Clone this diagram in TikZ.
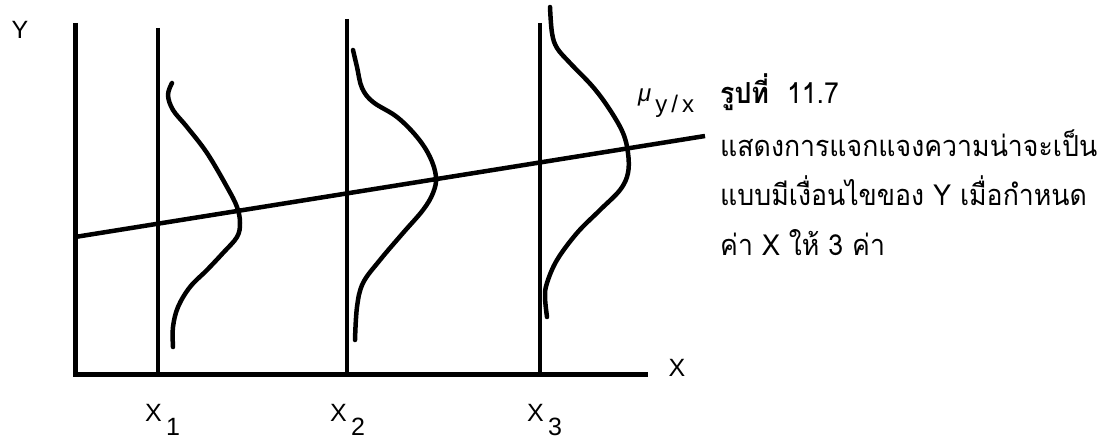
\documentclass[tikz,border=0pt]{standalone}
\usepackage{fontspec}
\setmainfont{Liberation Sans}
\newfontfamily\thaifont[Script=Thai]{Loma}
\usetikzlibrary{positioning}
\newcommand{\narrow}[1]{\scalebox{0.92}[1]{#1}}

\begin{document}
\begin{tikzpicture}[
    x=1pt, y=-1pt,
    axis/.style={line width=5pt},
    xline/.style={line width=4pt},
    density/.style={line width=4.5pt, line cap=round, line join=round},
    regline/.style={line width=4.5pt},
    axlabel/.style={inner sep=0pt, font=\fontsize{25}{25}\selectfont},
    thaitext/.style={inner sep=0pt, anchor=base west, font=\thaifont\fontsize{29}{29}\selectfont},
]
\useasboundingbox (0,0) rectangle (1107,441);

% Axes
\coordinate (origin) at (75,374);
\coordinate (ytop) at (75,23);
\coordinate (xend) at (648,374);
\draw[axis] (ytop) -- (origin) -- (xend);
\node[axlabel] (ylab) at (20,30) {Y};
\node[axlabel] (xlab) at (677,368) {X};

% Vertical lines at the three X values
\coordinate (x1top) at (158,28);
\coordinate (x2top) at (347,19);
\coordinate (x3top) at (540,23);
\draw[xline] (x1top) -- (x1top |- origin);
\draw[xline] (x2top) -- (x2top |- origin);
\draw[xline] (x3top) -- (x3top |- origin);
\node[axlabel, anchor=base west] (x1lab) at (145,421) {X\,\raisebox{-14pt}{1}};
\node[axlabel, anchor=base west] (x2lab) at (330,421) {X\,\raisebox{-14pt}{2}};
\node[axlabel, anchor=base west] (x3lab) at (527,421) {X\,\raisebox{-14pt}{3}};

% Regression line
\coordinate (rega) at (75,237);
\coordinate (regb) at (705,136);
\draw[regline] (rega) -- (regb);
\node[anchor=base west, inner sep=0pt, font=\fontsize{24}{24}\selectfont] (mulab) at (638,113)
    {\raisebox{11pt}{\itshape μ}\,y\,/\,x};

% Conditional densities
\draw[density] plot[smooth, tension=0.6] coordinates {
    (172,83) (168,95) (173,110) (187,127) (207,153) (227,187) (237,207) (240,223)
    (237,237) (223,253) (207,270) (190,287) (178,307) (173,327) (173,347)};
\draw[density] plot[smooth, tension=0.6] coordinates {
    (353,50) (357,67) (362,88) (373,102) (397,117) (417,137) (430,157) (436,177)
    (433,193) (423,210) (403,233) (380,260) (363,283) (357,307) (355,340)};
\draw[density] plot[smooth, tension=0.6] coordinates {
    (550,7) (552,33) (557,48) (570,63) (593,87) (610,110) (623,133) (628,153)
    (628,173) (620,190) (600,210) (577,233) (557,260) (547,283) (545,297) (547,317)};

% Caption
\node[thaitext] (title) at (720,103) {\narrow{\bfseries รูปที่\ \ \mdseries 11.7}};
\node[thaitext] (line1) at (720,156) {\narrow{แสดงการแจกแจงความน่าจะเป็น}};
\node[thaitext] (line2) at (720,205) {\narrow{แบบมีเงื่อนไขของ Y เมื่อกำหนด}};
\node[thaitext] (line3) at (720,255) {\narrow{ค่า X ให้ 3 ค่า}};
\end{tikzpicture}
\end{document}
